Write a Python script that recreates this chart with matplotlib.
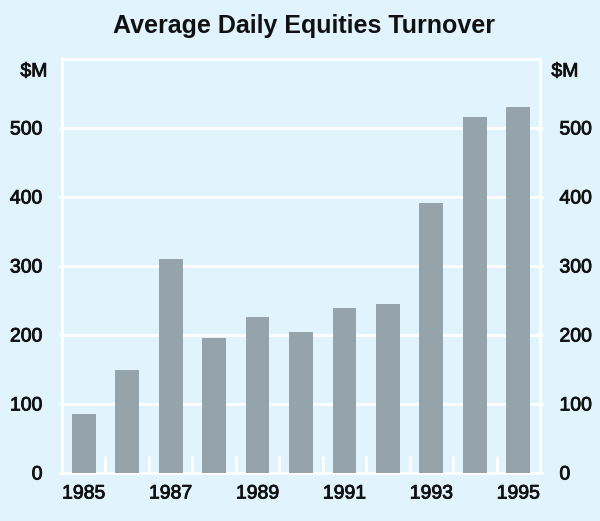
import matplotlib
matplotlib.use("Agg")
import matplotlib.pyplot as plt
import matplotlib.patheffects as pe
from matplotlib.ticker import FixedLocator

years = [1985, 1986, 1987, 1988, 1989, 1990, 1991, 1992, 1993, 1994, 1995]
turnover = [85, 150, 310, 196, 226, 204, 239, 245, 391, 516, 530]
year_labels = ["1985", "", "1987", "", "1989", "", "1991", "", "1993", "", "1995"]
y_ticks = [0, 100, 200, 300, 400, 500]

bg = "#e1f3fc"
bar_col = "#95a4ab"
txt = "#111111"
plt.rcParams['font.family'] = ['Liberation Sans', 'DejaVu Sans']
heavy = [pe.withStroke(linewidth=0.6, foreground=txt)]

fig = plt.figure(figsize=(6, 5.21), dpi=100, facecolor=bg)
ax = fig.add_axes([62/600, 1-473/521, (540-62)/600, (473-59)/521])
ax.set_facecolor(bg)

ax.bar(years, turnover, width=0.55, color=bar_col, zorder=3)
ax.set_xlim(years[0]-0.5, years[-1]+0.5)
ax.set_ylim(0, 600)

for y in y_ticks[1:] + [600]:
    ax.axhline(y, color="white", lw=2, zorder=1)
for s in ax.spines.values():
    s.set_color("white")
    s.set_linewidth(2)

fs = 14
ax.set_xticks(years)
ax.set_xticklabels(year_labels, fontsize=fs, color=txt)
ax.tick_params(axis='x', length=0, pad=9)
ax.xaxis.set_minor_locator(FixedLocator([y + 0.5 for y in years[:-1]]))
ax.tick_params(axis='x', which='minor', direction='in', length=12, width=2, color='white')

ax.set_yticks(y_ticks)
ax.set_yticklabels([str(v) for v in y_ticks], fontsize=fs, color=txt)
ax.tick_params(axis='y', length=2, width=2, color='white', pad=12,
               right=True, labelright=True, left=True, labelleft=True)

for lab in ax.get_xticklabels() + ax.get_yticklabels() + ax.yaxis.get_ticklabels(which='major'):
    lab.set_path_effects(heavy)
for t in ax.yaxis.get_major_ticks():
    t.label2.set_path_effects(heavy)

fig.text(34/600, 1-72/521, "$M", ha='center', va='center', fontsize=fs, color=txt,
         path_effects=heavy)
fig.text(565/600, 1-72/521, "$M", ha='center', va='center', fontsize=fs, color=txt,
         path_effects=heavy)

fig.text(304/600, 1-26/521, "Average Daily Equities Turnover", ha='center', va='center',
         fontsize=18, fontweight='bold', color=txt)

fig.savefig("out.png", dpi=100, facecolor=bg)
